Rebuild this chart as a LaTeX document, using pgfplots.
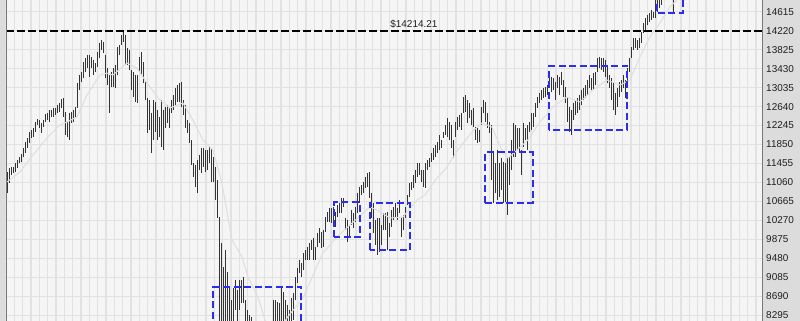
\documentclass[border=0pt]{standalone}
\usepackage{fontspec}
\setmainfont{Liberation Sans}
\usepackage{pgfplots}
\usepackage{pgfplotstable}
\pgfplotsset{compat=1.18}
\definecolor{panel}{RGB}{220,220,220}
\definecolor{plotbg}{RGB}{245,245,245}
\definecolor{gridcol}{RGB}{226,226,226}
\definecolor{barcol}{RGB}{52,52,52}
\definecolor{macol}{RGB}{222,222,222}
\definecolor{framecol}{RGB}{120,120,120}
\definecolor{boxcol}{RGB}{45,45,240}

\pgfplotstableread{
lo hi
10841 11278
11049 11361
11215 11382
11257 11382
11278 11465
11361 11528
11465 11590
11486 11653
11590 11778
11673 11903
11778 11986
11882 12111
11986 12152
12007 12194
12111 12319
12256 12381
12194 12361
12090 12298
12215 12361
12319 12485
12361 12506
12319 12569
12423 12569
12423 12610
12465 12610
12506 12673
12527 12715
12610 12798
12423 12819
12048 12527
12007 12319
11944 12506
12298 12527
12319 12569
12423 12631
12610 13131
12985 13297
13152 13360
13235 13568
13360 13651
13443 13714
13256 13714
13443 13672
13297 13610
13360 13547
13464 13776
13651 13964
13818 14026
13756 13985
13235 13714
13089 13443
12506 13297
13048 13360
13048 13443
13027 13506
13297 13880
13714 13922
13922 14130
13985 14198
13506 14130
13506 13860
13402 13818
12985 13402
12839 13360
12735 13297
12715 13297
13360 13672
13297 13776
13131 13568
12777 13152
12090 12819
12152 12777
11673 12506
11944 12777
12111 12735
11944 12569
12007 12423
11798 12777
11736 12569
12194 12631
12298 12673
12194 12631
12506 12777
12569 12881
12673 13027
12735 13089
12735 13131
12631 13152
12465 12777
12194 12673
12090 12361
11882 12298
11424 11944
11174 11465
10966 11424
10841 11528
11320 11632
11257 11778
11382 11778
11278 11736
11320 11736
11465 11798
11070 11778
11070 11590
10695 11382
10320 11111
7884 10341
8100 9800
8000 9300
7880 9654
7447 9196
7950 8884
7900 8613
7990 8863
8405 9030
8100 8822
8405 9030
8550 9030
8550 9092
7990 8613
7880 8405
7680 8300
7570 8260
7550 8100
7250 7950
7000 7600
6700 7300
6470 7000
6600 7500
7200 7900
7500 8100
7700 8150
7800 8150
7990 8613
7990 8613
7990 8571
7990 8550
8090 8863
8090 8780
8090 8613
7990 8509
7880 8405
8090 8655
8197 8759
8613 9092
8967 9279
9175 9446
9092 9383
9238 9592
9446 9654
9446 9717
9446 9800
9654 9862
9446 9904
9446 9717
9717 10008
9800 10112
9696 10029
9717 10070
10029 10341
10237 10445
10237 10528
10216 10528
10237 10549
10133 10445
10341 10591
10424 10633
10424 10737
10549 10737
10070 10320
9820 10279
9925 10175
10175 10487
10112 10424
10237 10549
10424 10841
10633 10966
10799 11007
10841 11070
10945 11174
10966 11257
10737 11278
10320 10841
10008 10633
9758 10279
9550 10320
9612 10320
9758 10175
10070 10424
10070 10424
9654 10445
9925 10216
10133 10487
10279 10549
10341 10633
10279 10528
10424 10695
9925 10320
10070 10383
10320 10549
10591 10799
10758 11049
10903 11070
10945 11215
11049 11320
11174 11465
11215 11465
11070 11320
10966 11320
10945 11465
11320 11528
11382 11569
11486 11673
11528 11778
11590 11840
11673 11903
11736 12048
11778 11944
11986 12111
12048 12256
12007 12402
11944 12319
11778 12256
11569 11944
12007 12319
12152 12423
12215 12465
12152 12506
12506 12839
12527 12881
12298 12777
12402 12715
12256 12569
12215 12610
11944 12215
11882 12194
11903 12152
12256 12631
12506 12777
12319 12735
12194 12506
12090 12319
11111 12256
10633 11673
10841 11465
10695 11736
10758 11465
10903 11569
10633 11486
10654 11465
10383 11590
11007 11590
11320 11944
11590 12298
11590 12256
11736 12194
11694 12194
11215 11736
11798 12298
11944 12194
11736 12256
12111 12319
12152 12506
12215 12506
12423 12715
12610 12839
12715 12923
12777 12985
12819 13027
12839 13048
12881 13089
13048 13277
12944 13256
12985 13235
12777 13152
13027 13297
12881 13256
13089 13360
12839 13193
12715 13048
12319 12819
12111 12631
12048 12569
12361 12715
12465 12777
12506 12819
12569 12881
12673 12985
12777 13027
12819 13089
12881 13193
13027 13297
12985 13235
12985 13339
13089 13360
13360 13651
13443 13672
13402 13651
13360 13651
13256 13610
13131 13464
13027 13297
12777 13235
12569 13131
12465 12923
12631 13027
12839 13152
12944 13193
13027 13297
12819 13193
13131 13443
13360 13651
13651 13880
13818 14068
13860 14068
13818 14026
13860 14068
13964 14193
14172 14380
14193 14484
14338 14547
14401 14588
14443 14651
14484 14609
14484 14963
14609 14990
14692 15020
14755 15050
14880 15100
14900 15120
14890 15100
14870 15080
14880 15060
14588 14950
}\bars

\begin{document}
\begin{tikzpicture}
\useasboundingbox (0,0) rectangle (800bp,321bp);
\fill[panel] (0,0) rectangle (800bp,321bp);
\begin{axis}[
  at={(6bp,0bp)}, anchor=south west,
  scale only axis, width=756.7bp, height=321bp,
  xmin=-0.665, xmax=377.7, ymin=8176, ymax=14859,
  axis background/.style={fill=plotbg},
  axis line style={draw=none},
  tick style={draw=none},
  major tick length=0pt,
  xtick={-0.665,3.5017,...,378},
  xticklabels=\empty,
  ytick={8295,8690,...,14615},
  yticklabels={8295,8690,9085,9480,9875,10270,10665,11060,11455,11850,12245,12640,13035,13430,13825,14220,14615},
  yticklabel pos=right,
  yticklabel style={anchor=west, xshift=3.3bp, inner sep=0pt, font=\fontsize{10}{12}\selectfont, text=black!88},
  grid=major,
  major grid style={gridcol, line width=1.1bp},
  clip=true,
]
\addplot[draw=none, no markers,
  error bars/.cd, y dir=minus, y explicit, error mark=none,
  error bar style={line width=1.4bp, draw=barcol, solid}]
  table[x expr=\coordindex, y=hi, y error expr=\thisrow{hi}-\thisrow{lo}] {\bars};
\addplot[color=macol, line width=1bp, no markers] coordinates {
(-0.2,11070) (6.3,11278) (12.8,11632) (19.8,11986) (26.3,12256) (29.8,12319) (34.8,12423) (39.8,12881) (46.3,13297) (49.8,13339) (52.8,13297) (59.8,13547) (64.8,13443) (69.8,13131) (76.3,12777) (81.3,12610) (87.8,12715) (92.8,12361) (97.8,11944) (102.8,11736) (107.3,11049) (112.3,9862) (117.3,9508) (120.3,9092) (125.3,8676) (128.8,8197) (131,8050) (134,7980) (137,8050) (140,8250) (147.8,8655) (157.8,9592) (164.8,9925) (171.3,10175) (181.3,10549) (184.8,10487) (191.3,10320) (197.8,10341) (204.8,10695) (208.8,10799) (214.8,11153) (218.8,11320) (225.3,11736) (232.3,12111) (237.3,12298) (242.3,12215) (247.3,11736) (250.3,11569) (253.8,11694) (260.3,11944) (266.3,12319) (272.8,12631) (279.8,12839) (286.3,12735) (292.8,12985) (299.8,13193) (306.3,13089) (311.3,13193) (316.3,13672) (321.3,14089) (326.3,14380) (331.3,14713) (334.8,14859) (337,15000)
};
\addplot[black, line width=1.8bp, dash pattern=on 7.5bp off 3.5bp, no markers] coordinates {(-0.665,14214.21) (377.7,14214.21)};
\node[anchor=base, inner sep=0pt, font=\fontsize{10}{12}\selectfont, text=black!88] at (axis cs:203.3,14214.21) [yshift=3bp] {\$14214.21};
\addplot[boxcol, line width=1.7bp, dash pattern=on 7bp off 3.5bp, no markers] coordinates {(103,8000) (103,8890) (146.8,8890) (146.8,8000)};
\addplot[boxcol, line width=1.7bp, dash pattern=on 7bp off 3.5bp, no markers] coordinates {(163.5,9918) (163.5,10647) (176.3,10647) (176.3,9918) (163.5,9918)};
\addplot[boxcol, line width=1.7bp, dash pattern=on 7bp off 3.5bp, no markers] coordinates {(181.3,9654) (181.3,10626) (201.3,10626) (201.3,9654) (181.3,9654)};
\addplot[boxcol, line width=1.7bp, dash pattern=on 7bp off 3.5bp, no markers] coordinates {(238.8,10639) (238.8,11688) (262.7,11688) (262.7,10639) (238.8,10639)};
\addplot[boxcol, line width=1.7bp, dash pattern=on 7bp off 3.5bp, no markers] coordinates {(271,12152) (271,13485) (310,13485) (310,12152) (271,12152)};
\addplot[boxcol, line width=1.7bp, dash pattern=on 7bp off 3.5bp, no markers] coordinates {(324.7,15000) (324.7,14582) (337.7,14582) (337.7,15000)};
\end{axis}
\draw[framecol, line width=1bp] (6.5bp,0) -- (6.5bp,321bp);
\draw[framecol, line width=1bp] (762.7bp,0) -- (762.7bp,321bp);
\end{tikzpicture}
\end{document}
